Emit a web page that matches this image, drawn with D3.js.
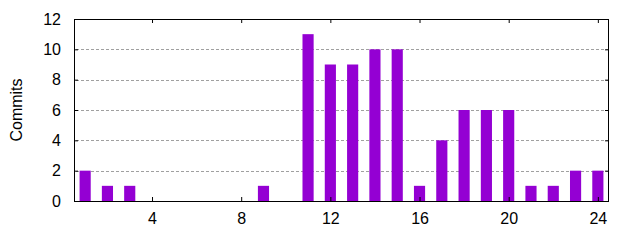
<!DOCTYPE html>
<html lang="en">
	<head>
		<meta charset="utf-8">
		<title>Commits per hour</title>
		<script type="text/javascript" src="https://cdn.jsdelivr.net/npm/d3@7"></script>
		<style type="text/css">
			body { margin: 0; background: #fff; }
			text { font-family: "Liberation Sans", Arial, sans-serif; font-size: 16px; fill: #000; }
		</style>
	</head>
	<body>

		<div id="commits"></div>

		<script type="text/javascript">

		var hours = [1,2,3,4,5,6,7,8,9,10,11,12,13,14,15,16,17,18,19,20,21,22,23,24]
		var commits = [2,1,1,0,0,0,0,0,1,0,11,9,9,10,10,1,4,6,6,6,1,1,2,2]
		var xTicks = [4,8,12,16,20,24]
		var yTicks = [0,2,4,6,8,10,12]

		drawCommits()

		function drawCommits(){

				var w = 640
				var h = 240
				var left = 74, right = 609, top = 19, bottom = 201

				var svg = d3.select("#commits")
						.append("svg")
						.attr("width",w)
						.attr("height",h)

				var xScale = d3.scaleLinear()
				.domain([0.5,24.5])
				.range([left, right])

				var yScale = d3.scaleLinear()
				.domain([0,12])
				.range([bottom, top])

				var barW = (xScale(1) - xScale(0)) * 0.5

				// grid
				svg.selectAll("line.grid")
						.data(yTicks.filter(function(d){ return d > 0 && d < 12 }))
						.enter()
						.append("line")
						.attr("class","grid")
						.attr("x1",left + 2)
						.attr("x2",right)
						.attr("y1",function(d){ return Math.round(yScale(d)) + 0.5 })
						.attr("y2",function(d){ return Math.round(yScale(d)) + 0.5 })
						.style("stroke","#a0a0a0")
						.style("stroke-dasharray","3,2")

				svg.selectAll("rect.bar")
						.data(hours)
						.enter()
						.append("rect")
						.attr("class","bar")
						.attr("x",function(d){ return xScale(d) - barW/2 })
						.attr("width",barW)
						.attr("y",function(d,i){ return yScale(commits[i]) })
						.attr("height",function(d,i){ return yScale(0) - yScale(commits[i]) })
						.style("fill","#9400d3")

				var yAxis = d3.axisLeft(yScale).tickValues(yTicks).tickSizeInner(-4).tickSizeOuter(0).tickPadding(13)
				var yAxisR = d3.axisRight(yScale).tickValues(yTicks).tickSizeInner(-4).tickSizeOuter(0).tickFormat("")
				var xAxis = d3.axisBottom(xScale).tickValues(xTicks).tickSizeInner(-4).tickSizeOuter(0).tickPadding(12)
				var xAxisT = d3.axisTop(xScale).tickValues(xTicks).tickSizeInner(-4).tickSizeOuter(0).tickFormat("")

				svg.append("g").attr("transform","translate(" + left + ",0)").call(yAxis)
				svg.append("g").attr("transform","translate(" + right + ",0)").call(yAxisR)
				svg.append("g").attr("transform","translate(0," + bottom + ")").call(xAxis)
				svg.append("g").attr("transform","translate(0," + top + ")").call(xAxisT)

				svg.selectAll(".domain").remove()
				svg.selectAll(".tick text").style("font-size","16px").style("font-family","Liberation Sans, Arial, sans-serif").style("fill","#000")

				svg.append("rect")
						.attr("x",left + 0.5)
						.attr("y",top + 0.5)
						.attr("width",right - left - 1)
						.attr("height",bottom - top)
						.style("fill","none")
						.style("stroke","#000")

				svg.append("text")
						.attr("transform","translate(22," + (top + bottom)/2 + ") rotate(-90)")
						.attr("text-anchor","middle")
						.text("Commits")
		}

		</script>
	</body>
</html>
